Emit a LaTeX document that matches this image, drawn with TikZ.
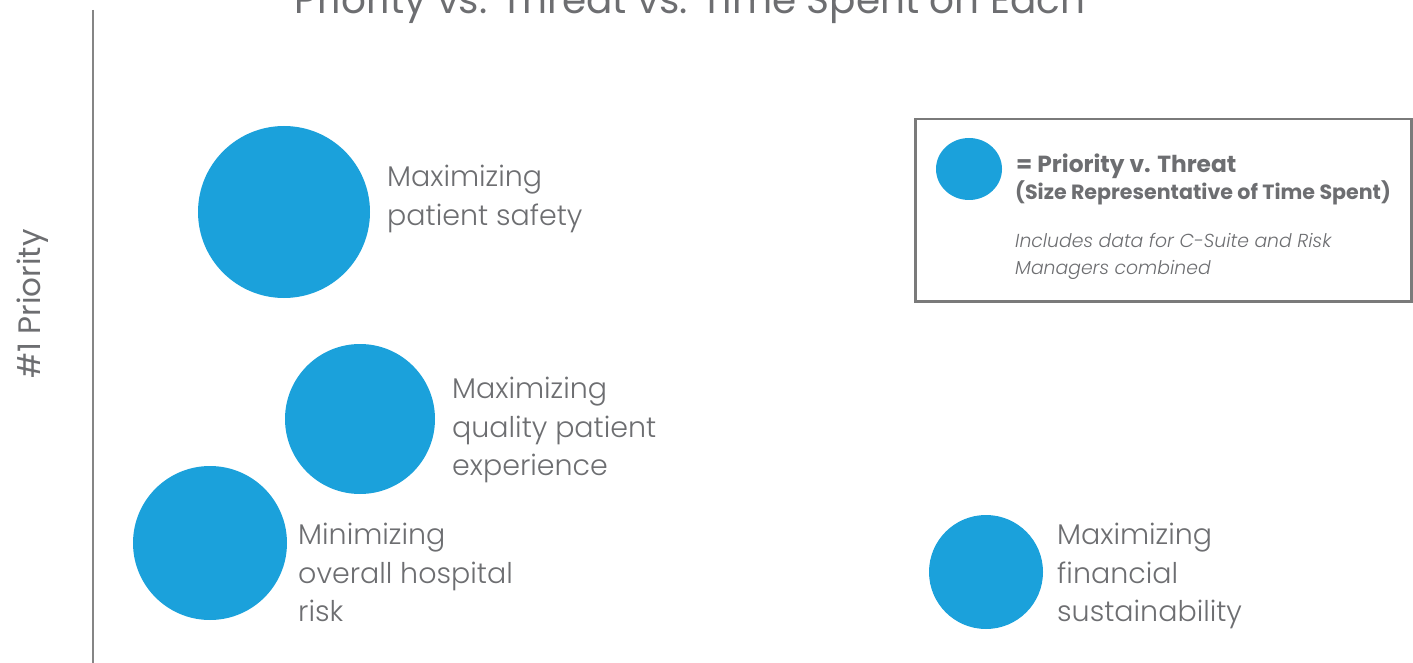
\documentclass[tikz,border=0pt]{standalone}
\usepackage{fontspec}
\setmainfont{Poppins Light}[ItalicFont={Poppins Light Italic},BoldFont={Poppins Bold}]
\newfontfamily\regfont{Poppins}
\usetikzlibrary{shapes.geometric}
\definecolor{bubbleblue}{HTML}{1BA1DB}
\definecolor{txtgray}{HTML}{6D6E71}
\definecolor{axisgray}{HTML}{858585}
\definecolor{boxgray}{HTML}{7A7A7A}
\begin{document}
\begin{tikzpicture}[x=1pt,y=-1pt,
  bubble/.style={circle,fill=bubbleblue,inner sep=0,minimum size=#1},
  lbl/.style={anchor=north west,inner sep=0,align=left,text=txtgray,font=\fontsize{28.5}{38.5}\selectfont},
]
\useasboundingbox (0,0) rectangle (1413,663);
\clip (0,0) rectangle (1413,663);
\draw[axisgray,line width=2] (93,10) -- (93,663);
\node[anchor=base,inner sep=0,text=txtgray,font=\regfont\fontsize{39}{44}\selectfont] (title) at (690,14) {Priority vs. Threat vs. Time Spent on Each};
\node[rotate=90,inner sep=0,text=txtgray,font=\regfont\fontsize{31}{34}\selectfont] (ylab) at (33,304) {\#1 Priority};
\node[bubble=172] (b1) at (284,212) {};
\node[bubble=150] (b2) at (360,419) {};
\node[bubble=154] (b3) at (210,543) {};
\node[bubble=114] (b4) at (986,572) {};
\node[lbl] (l1) at (387,165) {Maximizing\\patient safety};
\node[lbl] (l2) at (452,377) {Maximizing\\quality patient\\experience};
\node[lbl] (l3) at (298,523) {Minimizing\\overall hospital\\risk};
\node[lbl] (l4) at (1057,523) {Maximizing\\financial\\sustainability};
\node[draw=boxgray,line width=2.5,minimum width=496,minimum height=182,anchor=north west,inner sep=0] (legend) at (914,118) {};
\node[ellipse,fill=bubbleblue,inner sep=0,minimum width=66,minimum height=62] (lc) at (969,169) {};
\node[anchor=west,inner sep=0,text=txtgray,font=\bfseries\fontsize{23.3}{26}\selectfont] (lt1) at (1016,166) {= Priority v. Threat};
\node[anchor=west,inner sep=0,text=txtgray,font=\bfseries\fontsize{20.6}{23}\selectfont] (lt2) at (1015,193) {(Size Representative of Time Spent)};
\node[anchor=north west,inner sep=0,align=left,text=txtgray,font=\itshape\fontsize{18.8}{27}\selectfont] (lt3) at (1015,233) {Includes data for C-Suite and Risk\\Managers combined};
\end{tikzpicture}
\end{document}
